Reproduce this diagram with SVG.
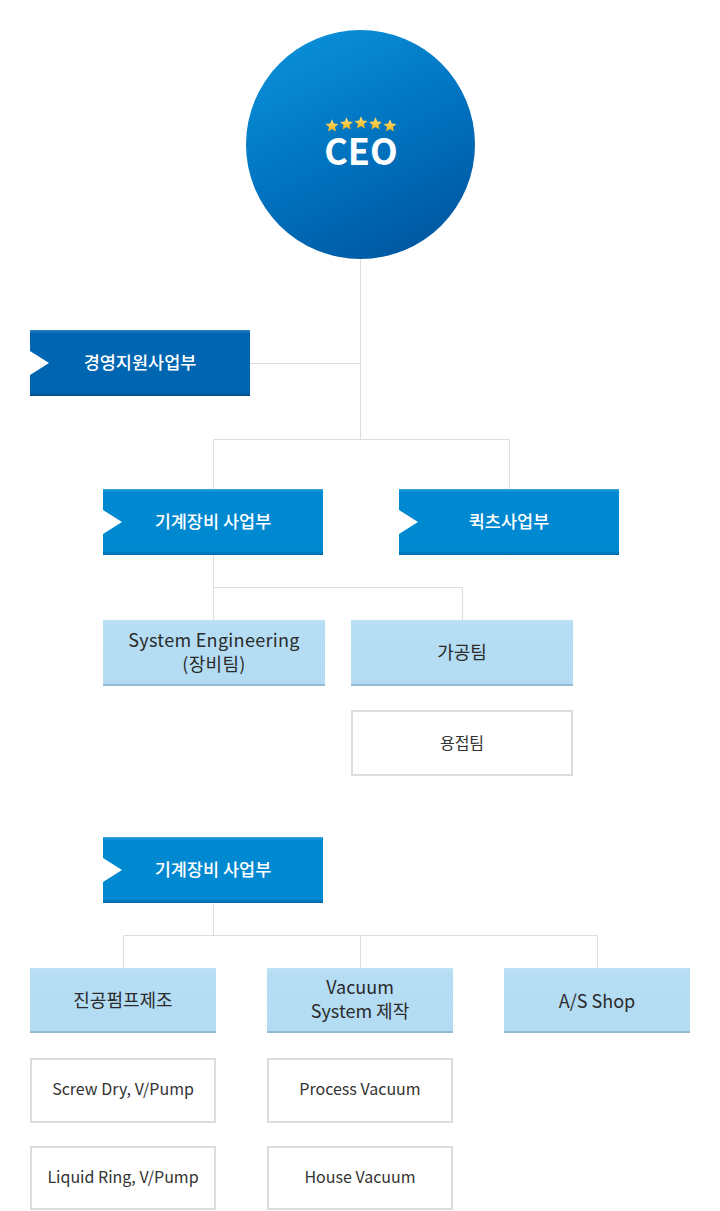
<svg xmlns="http://www.w3.org/2000/svg" width="720" height="1211" viewBox="0 0 720 1211">
<style>
.conn{fill:none;stroke:#dddddd;stroke-width:1}
.tw{font-family:"Noto Sans CJK KR","Noto Sans",sans-serif;font-size:17.5px;font-weight:500;fill:#ffffff;text-anchor:middle}
.tl{font-family:"Noto Sans CJK KR","Noto Sans",sans-serif;font-size:18px;fill:#2b2b2b;text-anchor:middle}
.tb{font-family:"Noto Sans CJK KR","Noto Sans",sans-serif;font-size:16px;fill:#333333;text-anchor:middle}
.notch{fill:#ffffff}
.light{fill:url(#gLight)}
.edgeL{fill:#93bbd3}
.wbox{fill:#ffffff;stroke:#dddddd;stroke-width:2}
.star{fill:url(#gStar)}
</style>
<defs>
<linearGradient id="gCircle" x1="0.25" y1="0" x2="0.75" y2="1">
<stop offset="0" stop-color="#0a90d8"/>
<stop offset="0.55" stop-color="#0070bd"/>
<stop offset="1" stop-color="#0056a0"/>
</linearGradient>
<linearGradient id="gBlue" x1="0" y1="0" x2="0" y2="1">
<stop offset="0" stop-color="#3aa3e0"/>
<stop offset="0.05" stop-color="#0088d1"/>
<stop offset="0.94" stop-color="#0088d1"/>
<stop offset="1" stop-color="#006aa8"/>
</linearGradient>
<linearGradient id="gDark" x1="0" y1="0" x2="0" y2="1">
<stop offset="0" stop-color="#2a7ec4"/>
<stop offset="0.05" stop-color="#0066b2"/>
<stop offset="0.94" stop-color="#0066b2"/>
<stop offset="1" stop-color="#004e8c"/>
</linearGradient>
<linearGradient id="gLight" x1="0" y1="0" x2="0" y2="1">
<stop offset="0" stop-color="#bfe2f7"/>
<stop offset="0.08" stop-color="#b5ddf4"/>
<stop offset="1" stop-color="#b3dbf2"/>
</linearGradient>
<linearGradient id="gStar" x1="0" y1="0" x2="0" y2="1">
<stop offset="0" stop-color="#ffe27a"/>
<stop offset="1" stop-color="#f2b418"/>
</linearGradient>
<path id="star" d="M0,-6.8 L1.8,-2.5 L6.5,-2.1 L2.9,0.95 L4.0,5.5 L0,3.1 L-4.0,5.5 L-2.9,0.95 L-6.5,-2.1 L-1.8,-2.5 Z"/>
</defs>
<rect width="720" height="1211" fill="#ffffff"/>

<g id="connectors">
<path class="conn" d="M360.5 258 V439.5"/>
<path class="conn" d="M250 363.5 H360.5"/>
<path class="conn" d="M213.5 489 V439.5 H509.5 V489"/>
<path class="conn" d="M213.5 555 V620"/>
<path class="conn" d="M213.5 587.5 H462.5 V620"/>
<path class="conn" d="M213.5 903 V935.5"/>
<path class="conn" d="M123.5 968 V935.5 H597.5 V968"/>
<path class="conn" d="M360.5 935.5 V968"/>
</g>

<g id="ceo">
<circle cx="360.5" cy="144.5" r="114.5" fill="url(#gCircle)"/>
<use href="#star" class="star" x="332" y="126"/>
<use href="#star" class="star" x="346.5" y="124"/>
<use href="#star" class="star" x="361" y="123"/>
<use href="#star" class="star" x="375.5" y="124"/>
<use href="#star" class="star" x="390" y="126"/>
<text x="361" y="165" font-family="'Noto Sans CJK KR','Noto Sans',sans-serif" font-size="36" font-weight="700" fill="#ffffff" text-anchor="middle">CEO</text>
</g>

<g id="mgmt">
<rect x="30" y="330" width="220" height="66" fill="url(#gDark)"/>
<polygon class="notch" points="30,351 49,363 30,375"/>
<text class="tw" x="140" y="369">경영지원사업부</text>
</g>

<g id="mech1">
<rect x="103" y="489" width="220" height="66" fill="url(#gBlue)"/>
<polygon class="notch" points="103,510 122,522 103,534"/>
<text class="tw" x="213" y="528">기계장비 사업부</text>
</g>

<g id="parts">
<rect x="399" y="489" width="220" height="66" fill="url(#gBlue)"/>
<polygon class="notch" points="399,510 418,522 399,534"/>
<text class="tw" x="509" y="528">퀵츠사업부</text>
</g>

<g id="syseng">
<rect class="light" x="103" y="620" width="222" height="66"/>
<rect class="edgeL" x="103" y="684" width="222" height="2"/>
<text class="tl" x="214" y="647" letter-spacing="0.3"><tspan x="214" y="647">System Engineering</tspan><tspan x="214" y="671">(장비팀)</tspan></text>
</g>

<g id="machining">
<rect class="light" x="351" y="620" width="222" height="66"/>
<rect class="edgeL" x="351" y="684" width="222" height="2"/>
<text class="tl" x="462" y="659">가공팀</text>
</g>

<g id="welding">
<rect class="wbox" x="352" y="711" width="220" height="64"/>
<text class="tb" x="462" y="749">용접팀</text>
</g>

<g id="mech2">
<rect x="103" y="837" width="220" height="66" fill="url(#gBlue)"/>
<polygon class="notch" points="103,858 122,870 103,882"/>
<text class="tw" x="213" y="876">기계장비 사업부</text>
</g>

<g id="pump">
<rect class="light" x="30" y="968" width="186" height="65"/>
<rect class="edgeL" x="30" y="1031" width="186" height="2"/>
<text class="tl" x="123" y="1007">진공펌프제조</text>
</g>

<g id="vacsys">
<rect class="light" x="267" y="968" width="186" height="65"/>
<rect class="edgeL" x="267" y="1031" width="186" height="2"/>
<text class="tl" x="360" y="994"><tspan x="360" y="994">Vacuum</tspan><tspan x="360" y="1018">System 제작</tspan></text>
</g>

<g id="asshop">
<rect class="light" x="504" y="968" width="186" height="65"/>
<rect class="edgeL" x="504" y="1031" width="186" height="2"/>
<text class="tl" x="597" y="1008">A/S Shop</text>
</g>

<g id="screw">
<rect class="wbox" x="31" y="1059" width="184" height="63"/>
<text class="tb" x="123" y="1095">Screw Dry, V/Pump</text>
</g>

<g id="liquid">
<rect class="wbox" x="31" y="1147" width="184" height="62"/>
<text class="tb" x="123" y="1183">Liquid Ring, V/Pump</text>
</g>

<g id="process">
<rect class="wbox" x="268" y="1059" width="184" height="63"/>
<text class="tb" x="360" y="1095">Process Vacuum</text>
</g>

<g id="house">
<rect class="wbox" x="268" y="1147" width="184" height="62"/>
<text class="tb" x="360" y="1183">House Vacuum</text>
</g>
</svg>
